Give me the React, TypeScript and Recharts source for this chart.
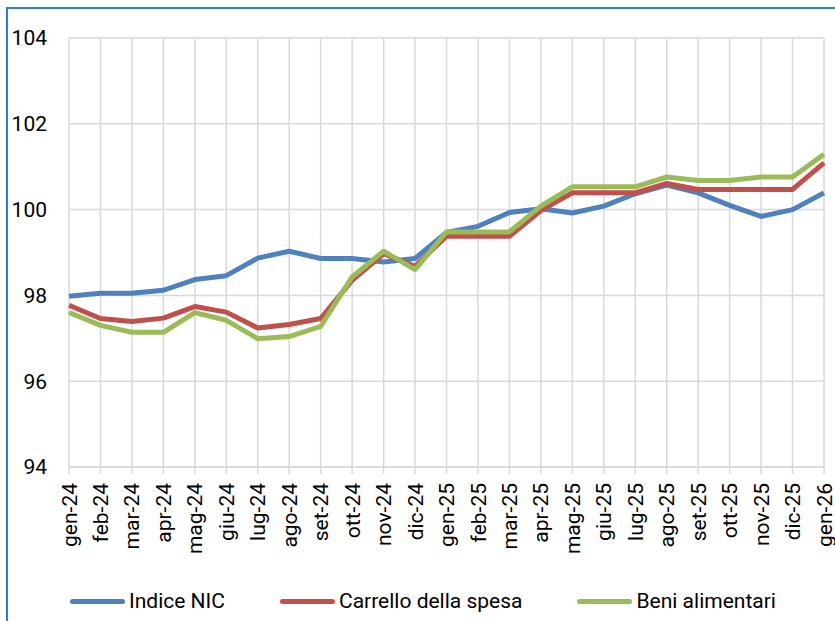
import { CartesianGrid, Legend, Line, LineChart, XAxis, YAxis } from "recharts";

const months = [
  "gen-24", "feb-24", "mar-24", "apr-24", "mag-24", "giu-24", "lug-24", "ago-24", "set-24",
  "ott-24", "nov-24", "dic-24", "gen-25", "feb-25", "mar-25", "apr-25", "mag-25", "giu-25",
  "lug-25", "ago-25", "set-25", "ott-25", "nov-25", "dic-25", "gen-26",
];

const indiceNic = [
  97.98, 98.05, 98.05, 98.12, 98.37, 98.46, 98.87, 99.03, 98.86, 98.86, 98.78, 98.86, 99.47,
  99.61, 99.93, 100.02, 99.92, 100.08, 100.37, 100.57, 100.39, 100.1, 99.84, 100.0, 100.39,
];

const carrello = [
  97.77, 97.46, 97.39, 97.47, 97.74, 97.61, 97.24, 97.32, 97.46, 98.35, 98.97, 98.68, 99.38,
  99.38, 99.38, 99.98, 100.39, 100.39, 100.39, 100.61, 100.47, 100.47, 100.47, 100.47, 101.09,
];

const alimentari = [
  97.6, 97.3, 97.14, 97.14, 97.6, 97.42, 96.99, 97.04, 97.28, 98.43, 99.03, 98.6, 99.48,
  99.48, 99.48, 100.08, 100.53, 100.53, 100.53, 100.76, 100.68, 100.68, 100.76, 100.76, 101.29,
];

const yTicks = [94, 96, 98, 100, 102, 104];

const seriesNames = ["Indice NIC", "Carrello della spesa", "Beni alimentari"];

const data = months.map((m, i) => ({
  name: m,
  nic: indiceNic[i],
  carrello: carrello[i],
  alimentari: alimentari[i],
}));

const FONT = "Roboto, 'Liberation Sans', sans-serif";

function MonthTick(props: any) {
  const { x, y, payload } = props;
  return (
    <text
      transform={`translate(${x},${y}) rotate(-90)`}
      textAnchor="end"
      dy="0.36em"
      fontSize={21}
      fontFamily={FONT}
      fill="#000"
    >
      {payload.value}
    </text>
  );
}

function LegendBox(props: any) {
  const payload = props.payload || [];
  // keep the series order, not alphabetical
  const items = seriesNames
    .map((n) => payload.find((p: any) => p.value === n))
    .filter(Boolean);
  return (
    <div
      style={{
        display: "flex",
        alignItems: "center",
        height: 40,
        paddingLeft: 70,
        gap: 55,
        fontFamily: FONT,
        fontSize: 21,
        color: "#000",
      }}
    >
      {items.map((it: any) => (
        <div key={it.value} style={{ display: "flex", alignItems: "center" }}>
          <span
            style={{
              display: "inline-block",
              width: 55,
              height: 5,
              borderRadius: 3,
              background: it.color,
              marginRight: 4,
            }}
          />
          <span>{it.value}</span>
        </div>
      ))}
    </div>
  );
}

export default function App() {
  return (
    <div style={{ position: "fixed", inset: 0, overflow: "hidden", background: "#fff" }}>
      <div
        style={{
          position: "absolute",
          left: 6,
          top: 7,
          width: 850,
          height: 640,
          border: "2px solid #2F7FCC",
        }}
      />
      <div style={{ position: "absolute", left: 0, top: 0 }}>
        <LineChart width={835} height={621} data={data} margin={{ top: 38, right: 11, left: 0, bottom: 0 }}>
          <CartesianGrid stroke="#D9D9D9" strokeWidth={1.5} />
          <XAxis
            dataKey="name"
            interval={0}
            height={114}
            tick={<MonthTick />}
            tickSize={7}
            tickMargin={9}
            tickLine={{ stroke: "#D9D9D9", strokeWidth: 1.5 }}
            axisLine={{ stroke: "#D9D9D9", strokeWidth: 1.5 }}
          />
          <YAxis
            domain={[94, 104]}
            ticks={yTicks}
            width={69}
            axisLine={false}
            tickLine={false}
            tickSize={0}
            tickMargin={22}
            tick={{ fontSize: 21, fill: "#000", fontFamily: FONT }}
          />
          <Legend verticalAlign="bottom" content={<LegendBox />} />
          <Line
            type="linear"
            dataKey="nic"
            name={seriesNames[0]}
            stroke="#4F81BD"
            strokeWidth={5}
            dot={false}
            strokeLinejoin="round"
            isAnimationActive={false}
          />
          <Line
            type="linear"
            dataKey="carrello"
            name={seriesNames[1]}
            stroke="#C0504D"
            strokeWidth={5}
            dot={false}
            strokeLinejoin="round"
            isAnimationActive={false}
          />
          <Line
            type="linear"
            dataKey="alimentari"
            name={seriesNames[2]}
            stroke="#9BBB59"
            strokeWidth={5}
            dot={false}
            strokeLinejoin="round"
            isAnimationActive={false}
          />
        </LineChart>
      </div>
    </div>
  );
}
